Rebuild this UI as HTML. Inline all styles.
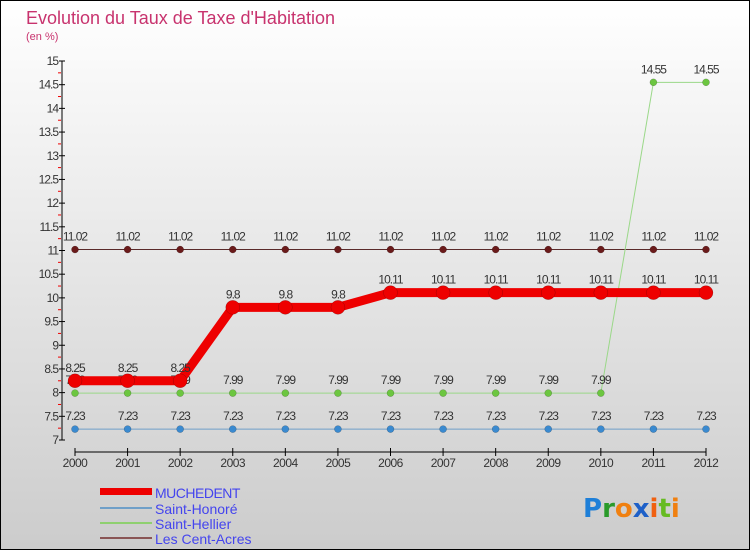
<!DOCTYPE html>
<html><head><meta charset="utf-8"><style>
body{margin:0;width:750px;height:550px;overflow:hidden;font-family:"Liberation Sans",sans-serif}
</style></head><body>
<svg width="750" height="550" xmlns="http://www.w3.org/2000/svg">
<defs><linearGradient id="bg" x1="0" y1="0" x2="0" y2="1"><stop offset="0" stop-color="#ffffff"/><stop offset="1" stop-color="#cccccc"/></linearGradient></defs>
<rect x="0.5" y="0.5" width="749" height="549" fill="url(#bg)" stroke="#000"/>
<text x="26" y="24" font-size="18" fill="#c8336e">Evolution du Taux de Taxe d'Habitation</text>
<text x="26" y="40" font-size="11" fill="#c8336e">(en %)</text>
<g id="axes"></g><g id="series"></g>
<g font-size="14" fill="#4444ee">
<rect x="100" y="488" width="52" height="7" fill="#ee0000"/><text x="155" y="498" letter-spacing="-0.5">MUCHEDENT</text>
<line x1="100" y1="508" x2="152" y2="508" stroke="#6f9fc8" stroke-width="2"/><text x="155" y="514">Saint-Honoré</text>
<line x1="100" y1="523" x2="152" y2="523" stroke="#8fd070" stroke-width="2"/><text x="155" y="529">Saint-Hellier</text>
<line x1="100" y1="538" x2="152" y2="538" stroke="#8a5555" stroke-width="2"/><text x="155" y="544">Les Cent-Acres</text>
</g>
<g font-size="26" font-weight="bold" font-family="DejaVu Sans, sans-serif">
<text x="583" y="517"><tspan fill="#1e7fd8">P</tspan><tspan fill="#2a9a2a">r</tspan><tspan fill="#f08010">o</tspan><tspan fill="#1e60c8">x</tspan><tspan fill="#f06010">i</tspan><tspan fill="#66bb22">t</tspan><tspan fill="#f08010">i</tspan></text>
</g>
</svg>
<script>
const years=[2000,2001,2002,2003,2004,2005,2006,2007,2008,2009,2010,2011,2012];
const yTicks=[7,7.5,8,8.5,9,9.5,10,10.5,11,11.5,12,12.5,13,13.5,14,14.5,15];
const muchedent=[8.25,8.25,8.25,9.8,9.8,9.8,10.11,10.11,10.11,10.11,10.11,10.11,10.11];
const saintHonore=[7.23,7.23,7.23,7.23,7.23,7.23,7.23,7.23,7.23,7.23,7.23,7.23,7.23];
const saintHellier=[7.99,7.99,7.99,7.99,7.99,7.99,7.99,7.99,7.99,7.99,7.99,14.55,14.55];
const centAcres=[11.02,11.02,11.02,11.02,11.02,11.02,11.02,11.02,11.02,11.02,11.02,11.02,11.02];
const NS="http://www.w3.org/2000/svg";
const X=i=>75+i*(706-75)/(years.length-1);
const Y=v=>440-(v-7)*(440-61)/8;
function mk(t,a,p,txt){const e=document.createElementNS(NS,t);for(const k in a)e.setAttribute(k,a[k]);if(txt!==undefined)e.textContent=txt;p.appendChild(e);return e;}
const ax=document.getElementById('axes');
let e=mk('line',{x1:62,y1:Y(15),x2:62,y2:Y(7),stroke:'#000'},ax);


e=mk('line',{x1:75,y1:452,x2:706,y2:452,stroke:'#000'},ax);


yTicks.forEach(v=>{
 mk('line',{x1:59,y1:Y(v),x2:65,y2:Y(v),stroke:'#000'},ax);
 if(v<15)mk('line',{x1:58,y1:Y(v+0.25),x2:61,y2:Y(v+0.25),stroke:'#e00'},ax);
 e=mk('text',{x:58,y:Y(v)+4,'font-size':12,'text-anchor':'end',fill:'#333','letter-spacing':'-1'},ax,String(v));
 
 
});
years.forEach((y,i)=>{
 mk('line',{x1:X(i),y1:448,x2:X(i),y2:456,stroke:'#000'},ax);
 e=mk('text',{x:X(i),y:467,'font-size':12,'text-anchor':'middle',fill:'#333','letter-spacing':'-0.5'},ax,String(y));
 
 
});
const sg=document.getElementById('series');
function series(name,vals,color,dot,w,r){
 const g=mk('g',{},sg);
 
 
 mk('polyline',{points:vals.map((v,i)=>X(i)+','+Y(v)).join(' '),fill:'none',stroke:color,'stroke-width':w},g);
 vals.forEach((v,i)=>{
  const c=mk('circle',{cx:X(i),cy:Y(v),r:r,fill:dot,stroke:'rgba(0,0,0,0.3)','stroke-width':0.5},g);
  
  
  const t=mk('text',{x:X(i),y:Y(v)-9,'font-size':12,'text-anchor':'middle',fill:'#333','letter-spacing':'-1'},g,String(v));
  
  
 });
}
series('les-cent-acres-series',centAcres,'#5a2a2a','#6a1a1a',1,3.5);
series('saint-honore-series',saintHonore,'#6f9fc8','#3a8ad0',1,3.5);
series('saint-hellier-series',saintHellier,'#9ad888','#6cc640',1,3.5);
series('muchedent-series',muchedent,'#ee0000','#ee0000',9,7);
</script>
</body></html>
